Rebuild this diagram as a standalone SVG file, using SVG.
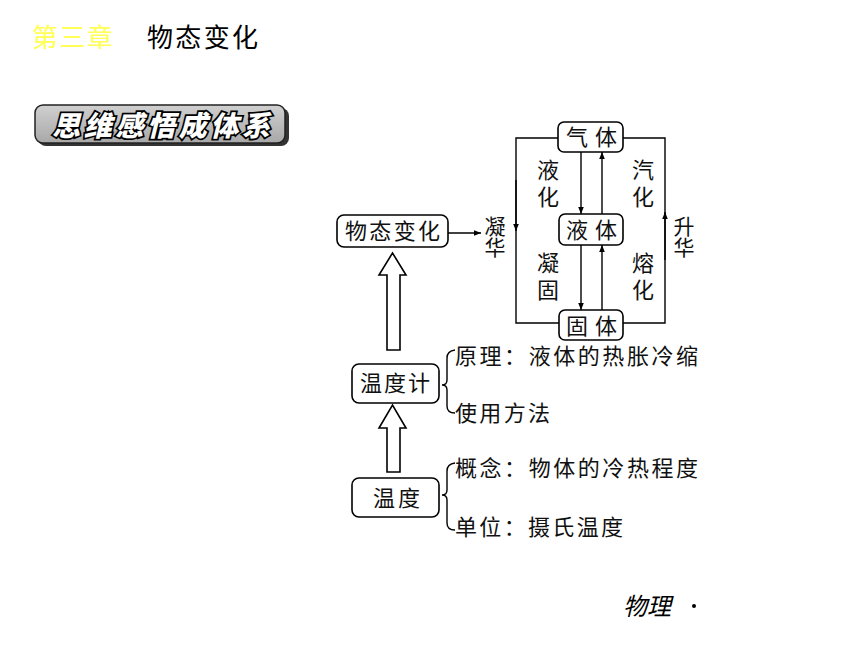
<svg xmlns="http://www.w3.org/2000/svg" width="860" height="645" viewBox="0 0 860 645">
<defs>
<marker id="ah" viewBox="0 0 10 10" refX="10" refY="5" markerWidth="7" markerHeight="7" markerUnits="userSpaceOnUse" orient="auto">
<path d="M0,1 L10,5 L0,9 Z" fill="#000"/>
</marker>
<linearGradient id="bg" x1="0" y1="0" x2="0" y2="1">
<stop offset="0" stop-color="#d0d0d0"/>
<stop offset="1" stop-color="#a8a8a8"/>
</linearGradient>
</defs>
<style>
.box{fill:#fff;stroke:#000;stroke-width:1.6}
.t{font-family:"Noto Sans CJK SC","Noto Sans CJK JP",sans-serif;font-size:22px;fill:#111}
.n{font-family:"Noto Sans CJK SC","Noto Sans CJK JP",sans-serif;font-size:22px;fill:#111}
.lab{font-family:"Noto Sans CJK SC",sans-serif;font-size:22px;fill:#111;writing-mode:vertical-rl}
.ln{fill:none;stroke:#000;stroke-width:1.4}
.hollow{fill:#fff;stroke:#000;stroke-width:1.6;stroke-linejoin:miter}
</style>
<rect width="860" height="645" fill="#fff"/>

<g id="header">
<text x="32" y="47" style="font-family:'Noto Sans CJK SC',sans-serif;font-size:26px;fill:#ffff55" textLength="81">第三章</text>
<text x="147" y="47" style="font-family:'Noto Sans CJK SC',sans-serif;font-size:26px;fill:#000" textLength="111">物态变化</text>
</g>

<g id="banner">
<rect x="38" y="108" width="251" height="38" rx="8" fill="#333"/>
<rect x="35" y="105" width="250" height="38" rx="8" fill="url(#bg)" stroke="#222" stroke-width="1.5"/>
<text x="52" y="136" textLength="218" style="font-family:'Noto Sans CJK SC',sans-serif;font-size:28px;font-weight:900;font-style:italic;fill:#fff;stroke:#000;stroke-width:3.5;paint-order:stroke">思维感悟成体系</text>
</g>

<g id="connectors">
<path class="ln" d="M558,138 H516 V323 H559"/>
<path class="ln" d="M623,138 H665 V323 H623"/>
<line class="ln" x1="516" y1="180" x2="516" y2="231" marker-end="url(#ah)"/>
<line class="ln" x1="665" y1="260" x2="665" y2="212" marker-end="url(#ah)"/>
<line class="ln" x1="581" y1="152" x2="581" y2="214" marker-end="url(#ah)"/>
<line class="ln" x1="602" y1="214" x2="602" y2="152" marker-end="url(#ah)"/>
<line class="ln" x1="581" y1="245" x2="581" y2="310" marker-end="url(#ah)"/>
<line class="ln" x1="602" y1="310" x2="602" y2="245" marker-end="url(#ah)"/>
<line class="ln" x1="448" y1="233" x2="481" y2="233" marker-end="url(#ah)"/>
<path class="hollow" d="M387,350 V275 H379 L392.5,253 L406,275 H400 V350 Z"/>
<path class="hollow" d="M387,472 V428 H379 L392.5,405 L406,428 H400 V472 Z"/>
<path class="ln" d="M455,350 Q447,351 447,358 V380 Q447,385 442,385 Q447,385 447,390 V406 Q447,413 455,413"/>
<path class="ln" d="M455,463 Q447,464 447,471 V490 Q447,495 442,495 Q447,495 447,500 V523 Q447,530 455,530"/>
</g>

<g id="n-gas">
<rect class="box" x="558" y="122" width="65" height="30" rx="6"/>
<text class="t" x="566" y="145" textLength="51">气体</text>
</g>
<g id="n-liquid">
<rect class="box" x="559" y="214" width="64" height="31" rx="6"/>
<text class="t" x="566" y="238" textLength="51">液体</text>
</g>
<g id="n-solid">
<rect class="box" x="559" y="310" width="64" height="30" rx="6"/>
<text class="t" x="566" y="334" textLength="51">固体</text>
</g>
<g id="n-change">
<rect class="box" x="337" y="215" width="111" height="32" rx="7"/>
<text class="t" x="345" y="239" textLength="95">物态变化</text>
</g>
<g id="n-thermometer">
<rect class="box" x="352" y="364" width="87" height="39" rx="7"/>
<text class="t" x="360" y="391" textLength="70">温度计</text>
</g>
<g id="n-temperature">
<rect class="box" x="352" y="478" width="87" height="39" rx="7"/>
<text class="t" x="373" y="506" textLength="47">温度</text>
</g>

<g id="labels">
<text class="lab" x="548" y="159" style="letter-spacing:5px">液化</text>
<text class="lab" x="643" y="159" style="letter-spacing:5px">汽化</text>
<text class="lab" x="548" y="252" style="letter-spacing:5px">凝固</text>
<text class="lab" x="643" y="252" style="letter-spacing:5px">熔化</text>
<text class="lab" x="495" y="216" style="font-size:21px;letter-spacing:0px">凝华</text>
<text class="lab" x="684" y="216" style="font-size:21px;letter-spacing:0px">升华</text>
</g>

<g id="notes">
<text class="n" x="455" y="364" textLength="243">原理：液体的热胀冷缩</text>
<text class="n" x="455" y="421" textLength="95">使用方法</text>
<text class="n" x="455" y="476" textLength="243">概念：物体的冷热程度</text>
<text class="n" x="455" y="535" textLength="168">单位：摄氏温度</text>
</g>

<g id="footer">
<text x="623" y="615" style="font-family:'Noto Sans CJK SC',sans-serif;font-size:24px;font-style:italic;fill:#000">物理</text>
<circle cx="694" cy="606" r="2" fill="#000"/>
</g>
</svg>
